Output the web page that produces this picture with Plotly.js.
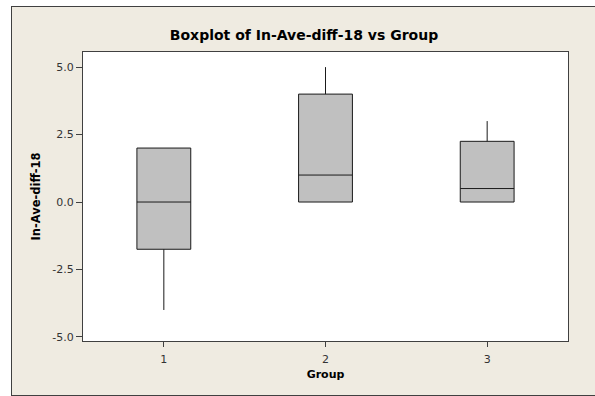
<!DOCTYPE html>
<html>
<head>
<meta charset="utf-8">
<script src="https://cdn.plot.ly/plotly-3.0.1.min.js"></script>
<style>html,body{margin:0;padding:0;background:#fff;}</style>
</head>
<body>
<div id="chart" style="width:595px;height:396px;"></div>
<script>
// Data
const groups = [1, 2, 3];
const lowerWhisker = [-4.0, 0.0, 0.0];
const q1Values = [-1.75, 0.0, 0.0];
const medianValues = [0.0, 1.0, 0.5];
const q3Values = [2.0, 4.0, 2.25];
const upperWhisker = [2.0, 5.0, 3.0];
const xTickLabels = ['1', '2', '3'];
const yTickValues = [5, 2.5, 0, -2.5, -5];
const yTickLabels = ['5.0', '2.5', '0.0', '-2.5', '-5.0'];

const FONT = 'Tahoma, "DejaVu Sans", sans-serif';

const trace = {
  type: 'box',
  x: groups,
  q1: q1Values,
  median: medianValues,
  q3: q3Values,
  lowerfence: lowerWhisker,
  upperfence: upperWhisker,
  boxpoints: false,
  width: 0.333,
  whiskerwidth: 0,
  fillcolor: '#c0c0c0',
  line: {color: '#1a1a1a', width: 1},
  hoverinfo: 'skip',
  showlegend: false
};

const px2x = p => (p - 83) / 485;
const py2y = p => (341 - p) / 289;

const layout = {
  width: 595,
  height: 396,
  margin: {l: 83, r: 27, t: 52, b: 55},
  paper_bgcolor: '#efebe1',
  plot_bgcolor: '#ffffff',
  font: {family: FONT, size: 11, color: '#333333'},
  title: {
    text: 'Boxplot of In-Ave-diff-18 vs Group',
    font: {family: FONT, size: 14, color: '#000000', weight: 'bold'},
    xref: 'container', x: 304 / 595, xanchor: 'center',
    yref: 'container', y: 1 - 35 / 396, yanchor: 'middle'
  },
  xaxis: {
    range: [0.5, 3.5],
    tickmode: 'array',
    tickvals: groups,
    ticktext: xTickLabels,
    ticks: 'outside', ticklen: 5, tickcolor: '#404040', tickwidth: 1,
    ticklabelstandoff: 3,
    showline: true, mirror: true, linecolor: '#404040', linewidth: 1,
    showgrid: false, zeroline: false,
    tickfont: {family: FONT, size: 11, color: '#333333'},
    title: {text: 'Group', font: {family: FONT, size: 11, color: '#000000', weight: 'bold'}, standoff: 5}
  },
  yaxis: {
    range: [-5.15, 5.56],
    tickmode: 'array',
    tickvals: yTickValues,
    ticktext: yTickLabels,
    ticks: 'outside', ticklen: 6, tickcolor: '#404040', tickwidth: 1,
    showline: true, mirror: true, linecolor: '#404040', linewidth: 1,
    showgrid: false, zeroline: false,
    tickfont: {family: FONT, size: 11, color: '#333333'},
    title: {text: 'In-Ave-diff-18', font: {family: FONT, size: 11.5, color: '#000000', weight: 'bold'}, standoff: 9}
  },
  shapes: [
    {type: 'rect', xref: 'paper', yref: 'paper', x0: px2x(-2), x1: px2x(11), y0: py2y(400), y1: py2y(-2), fillcolor: '#ffffff', line: {width: 0}, layer: 'below'},
    {type: 'rect', xref: 'paper', yref: 'paper', x0: px2x(-2), x1: px2x(600), y0: py2y(6), y1: py2y(-2), fillcolor: '#ffffff', line: {width: 0}, layer: 'below'},
    {type: 'line', xref: 'paper', yref: 'paper', x0: px2x(11.5), x1: px2x(11.5), y0: py2y(6), y1: py2y(396), line: {color: '#404040', width: 1}},
    {type: 'line', xref: 'paper', yref: 'paper', x0: px2x(11), x1: px2x(600), y0: py2y(6.5), y1: py2y(6.5), line: {color: '#404040', width: 1}},
    {type: 'line', xref: 'paper', yref: 'paper', x0: px2x(11), x1: px2x(600), y0: py2y(395.5), y1: py2y(395.5), line: {color: '#404040', width: 1}}
  ]
};

Plotly.newPlot('chart', [trace], layout, {displayModeBar: false, staticPlot: true});
</script>
</body>
</html>
